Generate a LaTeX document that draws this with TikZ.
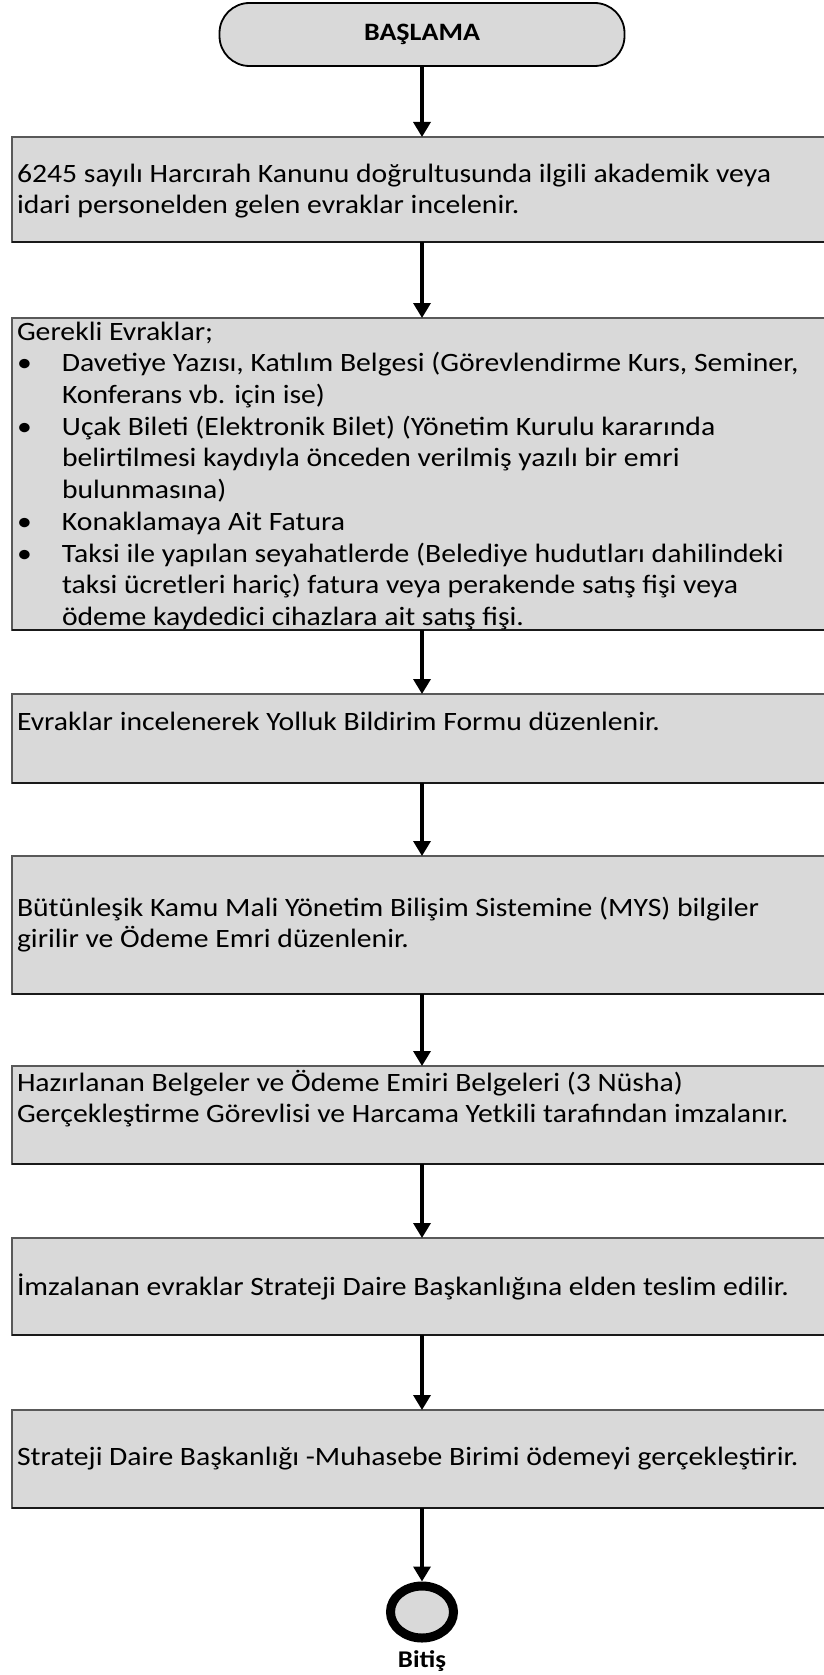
\documentclass[tikz,border=0pt]{standalone}
\usepackage{fontspec}
\setmainfont{Carlito}[FakeStretch=1.12]
\usetikzlibrary{arrows.meta,shapes.geometric}
\definecolor{boxgray}{HTML}{D9D9D9}
\begin{document}
\begin{tikzpicture}[x=1pt,y=-1pt,
  procbox/.style={draw=black!65, line width=1.8pt, fill=boxgray, rectangle,
    anchor=north west, minimum width=816pt, inner sep=0pt, outer sep=0pt},
  botline/.style={draw=black!90, line width=2.8pt},
  arr/.style={line width=3.4pt, -{Triangle[length=15pt,width=17pt]}},
  txt/.style={inner sep=0pt, outer sep=0pt, font=\fontsize{26.5}{31}\selectfont},
  txtwide/.style={inner sep=0pt, outer sep=0pt, font=\fontsize{26.5}{31.7}\selectfont},
  termbox/.style={draw=black, line width=1.8pt, fill=boxgray, rounded corners=30pt,
    minimum width=405pt, minimum height=63pt, font=\bfseries\fontsize{25}{30}\selectfont},
  endring/.style={draw=black, line width=9pt, fill=boxgray, ellipse,
    minimum width=63pt, minimum height=52pt}
]
\useasboundingbox (0,0) rectangle (824,1675);

% start
\node[termbox] (start) at (422,34.5) {BAŞLAMA};

% boxes
\node[procbox, minimum height=105pt] (b1) at (12,137) {};
\node[procbox, minimum height=312pt] (b2) at (12,318) {};
\node[procbox, minimum height=89pt] (b3) at (12,694) {};
\node[procbox, minimum height=138pt] (b4) at (12,856) {};
\node[procbox, minimum height=98pt] (b5) at (12,1066) {};
\node[procbox, minimum height=97pt] (b6) at (12,1238) {};
\node[procbox, minimum height=98pt] (b7) at (12,1410) {};
\foreach \b in {b1,b2,b3,b4,b5,b6,b7}{
  \draw[botline] (\b.south west) -- (\b.south east);
}

% texts
\node[txt, anchor=north west] (t1) at (17,160.8) {\begin{tabular}{@{}l@{}}
6245 sayılı Harcırah Kanunu doğrultusunda ilgili akademik veya\\
idari personelden gelen evraklar incelenir.
\end{tabular}};

\node[txtwide, anchor=north west] (t2) at (17,318) {\begin{tabular}{@{}p{45pt}@{}l@{}}
\multicolumn{2}{@{}l@{}}{Gerekli Evraklar;}\\
•& Davetiye Yazısı, Katılım Belgesi (Görevlendirme Kurs, Seminer,\\
 & Konferans vb. için ise)\\
•& Uçak Bileti (Elektronik Bilet) (Yönetim Kurulu kararında\\
 & belirtilmesi kaydıyla önceden verilmiş yazılı bir emri\\
 & bulunmasına)\\
•& Konaklamaya Ait Fatura\\
•& Taksi ile yapılan seyahatlerde (Belediye hudutları dahilindeki\\
 & taksi ücretleri hariç) fatura veya perakende satış fişi veya\\
 & ödeme kaydedici cihazlara ait satış fişi.
\end{tabular}};

\node[txt, anchor=base west] (t3) at (17,730) {Evraklar incelenerek Yolluk Bildirim Formu düzenlenir.};

\node[txt, anchor=north west] (t4) at (17,894.3) {\begin{tabular}{@{}l@{}}
Bütünleşik Kamu Mali Yönetim Bilişim Sistemine (MYS) bilgiler\\
girilir ve Ödeme Emri düzenlenir.
\end{tabular}};

\node[txt, anchor=north west] (t5) at (17,1069.3) {\begin{tabular}{@{}l@{}}
Hazırlanan Belgeler ve Ödeme Emiri Belgeleri (3 Nüsha)\\
Gerçekleştirme Görevlisi ve Harcama Yetkili tarafından imzalanır.
\end{tabular}};

\node[txt, anchor=base west] (t6) at (17,1295.5) {İmzalanan evraklar Strateji Daire Başkanlığına elden teslim edilir.};

\node[txt, anchor=base west] (t7) at (17,1465) {Strateji Daire Başkanlığı -Muhasebe Birimi ödemeyi gerçekleştirir.};

% end
\node[endring] (end) at (422,1612) {};
\node[font=\bfseries\fontsize{24}{28}\selectfont, inner sep=0pt] (bitis) at (422,1661) {Bitiş};

% connectors
\draw[arr] (start.south) -- (start.south |- b1.north);
\draw[arr] (b1.south -| start.south) -- (b2.north -| start.south);
\draw[arr] (b2.south -| start.south) -- (b3.north -| start.south);
\draw[arr] (b3.south -| start.south) -- (b4.north -| start.south);
\draw[arr] (b4.south -| start.south) -- (b5.north -| start.south);
\draw[arr] (b5.south -| start.south) -- (b6.north -| start.south);
\draw[arr] (b6.south -| start.south) -- (b7.north -| start.south);
\draw[arr] (b7.south -| start.south) -- (end.north);
\end{tikzpicture}
\end{document}
